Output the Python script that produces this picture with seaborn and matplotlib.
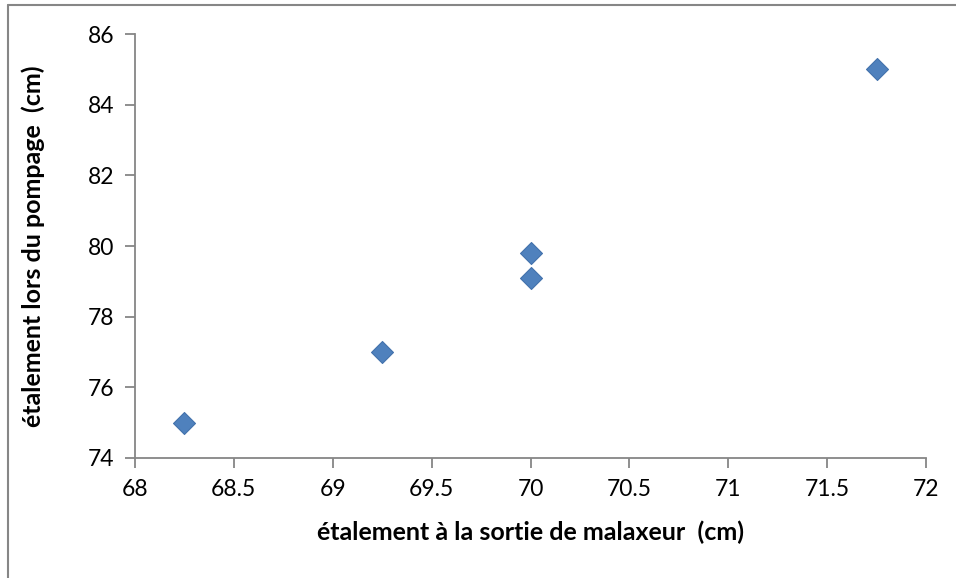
import matplotlib
matplotlib.use("Agg")
import matplotlib.pyplot as plt
from matplotlib.lines import Line2D
import seaborn as sns
import pandas as pd

# Slump-flow measurements (cm)
sortie_malaxeur = [68.25, 69.25, 70.0, 70.0, 71.75]
pompage = [75.0, 77.0, 79.1, 79.8, 85.0]
x_ticks = [68, 68.5, 69, 69.5, 70, 70.5, 71, 71.5, 72]
y_ticks = [74, 76, 78, 80, 82, 84, 86]

df = pd.DataFrame({"sortie": sortie_malaxeur, "pompage": pompage})

sns.set_theme(style="white")
plt.rcParams["font.family"] = ["Lato", "DejaVu Sans"]

fig = plt.figure(figsize=(9.56, 5.78), dpi=100)
ax = fig.add_axes([135 / 956, 1 - 458 / 578, (926 - 135) / 956, (458 - 34) / 578])

sns.scatterplot(data=df, x="sortie", y="pompage", marker="D", s=125,
                color="#4F81BD", edgecolor="#4372AC", linewidth=0.8, ax=ax, zorder=3)

ax.set_xlim(68, 72)
ax.set_ylim(74, 86)
ax.set_xticks(x_ticks)
ax.set_xticklabels([f"{v:g}" for v in x_ticks])
ax.set_yticks(y_ticks)
ax.set_yticklabels([f"{v:g}" for v in y_ticks])

grey = "#868686"
for side in ("top", "right"):
    ax.spines[side].set_visible(False)
for side in ("left", "bottom"):
    ax.spines[side].set_color(grey)
    ax.spines[side].set_linewidth(1.3)

ax.tick_params(axis="both", direction="out", length=7, width=1.3, color=grey,
               labelsize=16.5, labelcolor="black", pad=8, bottom=True, left=True)

ax.set_xlabel("étalement à la sortie de malaxeur  (cm)", fontsize=18, fontweight="bold",
              color="black")
ax.set_ylabel("étalement lors du pompage  (cm)", fontsize=18, fontweight="bold",
              color="black")
ax.xaxis.set_label_coords(0.5, (458 - 532) / 424)
ax.xaxis.label.set_va("center")
ax.yaxis.set_label_coords((33 - 135) / 791, 0.5)
ax.yaxis.label.set_va("center")

# chart-area border (left and top edges)
fig.add_artist(Line2D([8 / 956, 8 / 956], [0, 1 - 5 / 578], transform=fig.transFigure,
                      color=grey, linewidth=1.5))
fig.add_artist(Line2D([8 / 956, 1], [1 - 5 / 578, 1 - 5 / 578], transform=fig.transFigure,
                      color=grey, linewidth=1.5))

fig.savefig("out.png", dpi=100)
